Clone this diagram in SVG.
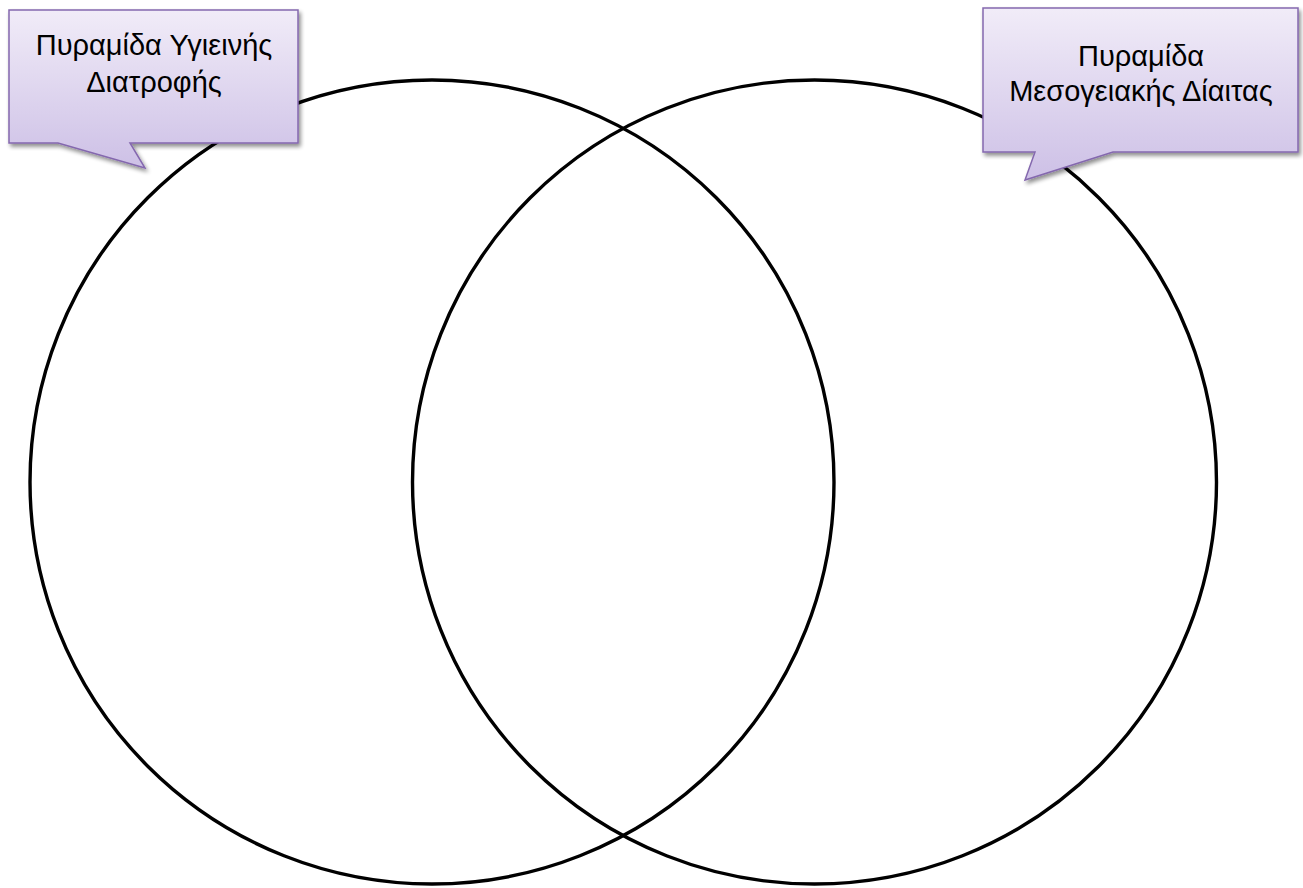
<svg xmlns="http://www.w3.org/2000/svg" width="1303" height="888" viewBox="0 0 1303 888">
<style>
.circle{fill:none;stroke:#000;stroke-width:3.4}
.callout{fill:url(#lav);stroke:#8468ae;stroke-width:1.5;filter:url(#sh)}
.lbl{font-family:"Liberation Sans",Arial,sans-serif;font-size:29px;fill:#000;text-anchor:middle}
</style>
<defs>
<linearGradient id="lav" x1="0" y1="0" x2="0" y2="1">
<stop offset="0" stop-color="#f1ecf8"/>
<stop offset="1" stop-color="#cdc0e6"/>
</linearGradient>
<filter id="sh" x="-10%" y="-10%" width="125%" height="135%">
<feGaussianBlur in="SourceAlpha" stdDeviation="2"/>
<feOffset dx="2" dy="3" result="b"/>
<feComponentTransfer><feFuncA type="linear" slope="0.45"/></feComponentTransfer>
<feMerge><feMergeNode/><feMergeNode in="SourceGraphic"/></feMerge>
</filter>
</defs>
<rect width="1303" height="888" fill="#fff"/>
<g id="connectors">
<circle id="circle-left" class="circle" cx="432" cy="482" r="402"/>
<circle id="circle-right" class="circle" cx="814.5" cy="482" r="402"/>
</g>
<g id="callout-left">
<path class="callout" d="M9,10 H298 V143 H130 L145,168 L58,143 H9 Z"/>
<text class="lbl" x="154" y="55">Πυραμίδα Υγιεινής</text>
<text class="lbl" x="154" y="92">Διατροφής</text>
</g>
<g id="callout-right">
<path class="callout" d="M983,8 H1298 V152 H1113 L1025,180 L1035,152 H983 Z"/>
<text class="lbl" x="1141" y="66">Πυραμίδα</text>
<text class="lbl" x="1141" y="101">Μεσογειακής Δίαιτας</text>
</g>
</svg>
